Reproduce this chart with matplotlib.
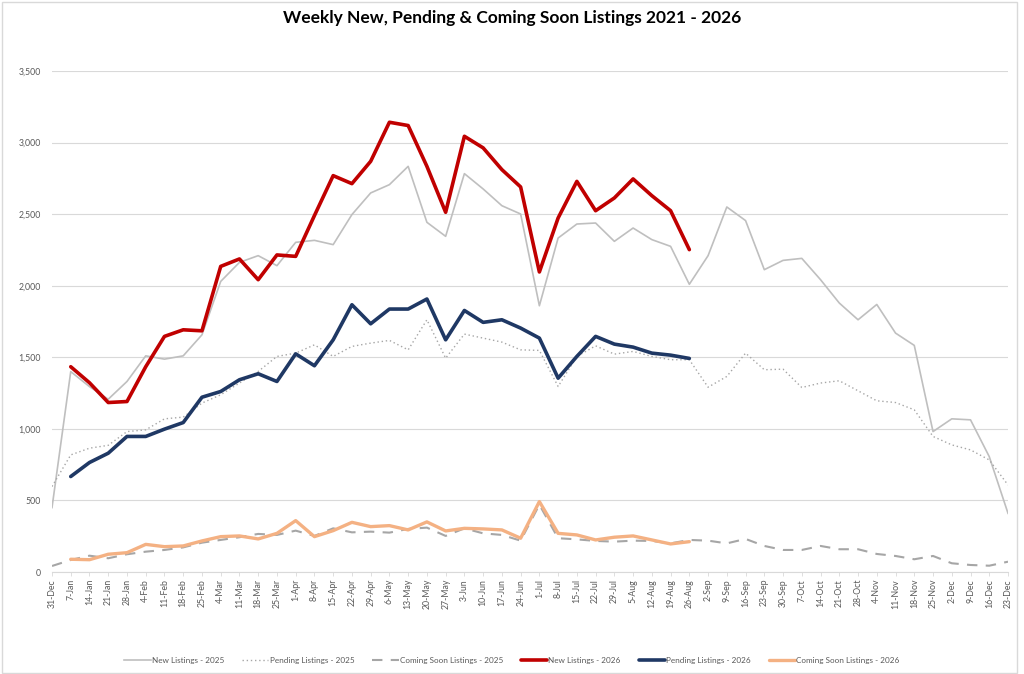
import matplotlib
matplotlib.use("Agg")
import matplotlib.pyplot as plt
from matplotlib.patches import Rectangle
from matplotlib.ticker import FuncFormatter

weeks = ["31-Dec", "7-Jan", "14-Jan", "21-Jan", "28-Jan", "4-Feb", "11-Feb", "18-Feb", "25-Feb",
         "4-Mar", "11-Mar", "18-Mar", "25-Mar", "1-Apr", "8-Apr", "15-Apr", "22-Apr", "29-Apr",
         "6-May", "13-May", "20-May", "27-May", "3-Jun", "10-Jun", "17-Jun", "24-Jun", "1-Jul",
         "8-Jul", "15-Jul", "22-Jul", "29-Jul", "5-Aug", "12-Aug", "19-Aug", "26-Aug", "2-Sep",
         "9-Sep", "16-Sep", "23-Sep", "30-Sep", "7-Oct", "14-Oct", "21-Oct", "28-Oct", "4-Nov",
         "11-Nov", "18-Nov", "25-Nov", "2-Dec", "9-Dec", "16-Dec", "23-Dec"]

new_2025 = [450, 1400, 1295, 1207, 1331, 1510, 1487, 1510, 1657, 2030, 2163, 2210, 2140, 2303,
            2317, 2287, 2497, 2648, 2706, 2834, 2443, 2345, 2783, 2676, 2559, 2501, 1860, 2333,
            2431, 2438, 2310, 2403, 2322, 2275, 2010, 2210, 2550, 2455, 2112, 2177, 2191, 2042,
            1879, 1762, 1869, 1669, 1583, 981, 1070, 1063, 806, 410]

pending_2025 = [597, 818, 865, 885, 981, 993, 1070, 1082, 1180, 1238, 1320, 1401, 1506, 1529,
                1587, 1506, 1576, 1599, 1618, 1552, 1762, 1494, 1662, 1634, 1606, 1552, 1548,
                1296, 1506, 1580, 1522, 1541, 1506, 1483, 1483, 1291, 1366, 1529, 1413, 1417,
                1289, 1320, 1336, 1266, 1196, 1184, 1133, 947, 888, 853, 783, 608]

coming_2025 = [42, 84, 114, 96, 124, 142, 154, 172, 205, 224, 243, 266, 259, 289, 252, 305, 277,
               282, 275, 301, 310, 252, 305, 270, 259, 219, 470, 236, 228, 217, 212, 219, 217,
               200, 224, 219, 200, 231, 182, 154, 154, 182, 159, 159, 126, 112, 89, 112, 61, 49,
               44, 72]

new_2026 = [None, 1434, 1322, 1184, 1191, 1434, 1646, 1692, 1685, 2135, 2187, 2042, 2215, 2205,
            2490, 2769, 2713, 2869, 3142, 3119, 2834, 2513, 3044, 2963, 2811, 2690, 2096, 2473,
            2729, 2524, 2613, 2746, 2629, 2524, 2252]

pending_2026 = [None, 667, 765, 830, 947, 947, 998, 1044, 1221, 1261, 1343, 1385, 1331, 1524,
                1441, 1622, 1867, 1734, 1837, 1837, 1907, 1622, 1827, 1744, 1762, 1704, 1634,
                1354, 1506, 1646, 1592, 1571, 1529, 1515, 1492]

coming_2026 = [None, 89, 86, 124, 135, 193, 177, 182, 217, 247, 252, 231, 270, 359, 247, 289,
               347, 317, 324, 294, 350, 287, 305, 301, 294, 236, 492, 270, 259, 224, 243, 252,
               224, 196, 212]

title = "Weekly New, Pending & Coming Soon Listings 2021 - 2026"
yticks = [0, 500, 1000, 1500, 2000, 2500, 3000, 3500]

plt.rcParams['font.family'] = ['Lato', 'DejaVu Sans']

fig = plt.figure(figsize=(10.24, 6.74), dpi=100)
ax = fig.add_axes([52 / 1024, 102 / 674, 956 / 1024, 501 / 674])

x_all = list(range(len(weeks)))
x_26 = list(range(len(new_2026)))

def nz(v):
    return [float('nan') if a is None else a for a in v]

ax.plot(x_all, new_2025, color="#BFBFBF", lw=1.2, label="New Listings - 2025", zorder=3)
ax.plot(x_all, pending_2025, color="#A6A6A6", lw=1.0, ls=(0, (1, 2)), label="Pending Listings - 2025", zorder=3)
ax.plot(x_all, coming_2025, color="#A6A6A6", lw=1.5, ls=(0, (5, 4)), label="Coming Soon Listings - 2025", zorder=3)
ax.plot(x_26, nz(new_2026), color="#C00000", lw=2.6, label="New Listings - 2026", zorder=4,
        solid_joinstyle="round", solid_capstyle="round")
ax.plot(x_26, nz(pending_2026), color="#1F3864", lw=2.6, label="Pending Listings - 2026", zorder=4,
        solid_joinstyle="round", solid_capstyle="round")
ax.plot(x_26, nz(coming_2026), color="#F4B183", lw=2.4, label="Coming Soon Listings - 2026", zorder=4,
        solid_joinstyle="round", solid_capstyle="round")

ax.set_xlim(0, len(weeks) - 1)
ax.set_ylim(0, 3500)
ax.set_yticks(yticks)
ax.yaxis.set_major_formatter(FuncFormatter(lambda v, p: f"{int(v):,}"))
ax.set_xticks(x_all)
ax.set_xticklabels(weeks, rotation=90)
ax.tick_params(axis="x", labelsize=6.3, colors="#595959", length=3, width=0.6, color="#D9D9D9", pad=2)
ax.tick_params(axis="y", labelsize=6.3, colors="#595959", length=0, pad=8)
ax.grid(axis="y", color="#D9D9D9", lw=0.8, zorder=0)
ax.set_axisbelow(True)
for s in ["top", "right", "left"]:
    ax.spines[s].set_visible(False)
ax.spines["bottom"].set_color("#D9D9D9")
ax.spines["bottom"].set_linewidth(0.8)

fig.text(0.5, 1 - 18 / 674, title, ha="center", va="center", fontsize=12.5, fontweight="bold", color="#000000")

leg = fig.legend(loc="center", bbox_to_anchor=(0.5, 14 / 674), ncol=6, frameon=False,
                 fontsize=5.9, handlelength=3.2, handletextpad=0.15, columnspacing=2.2)
for t in leg.get_texts():
    t.set_color("#595959")

fig.patches.append(Rectangle((2 / 1024, 1 / 674), 1015 / 1024, 671 / 674, transform=fig.transFigure,
                             fill=False, edgecolor="#D9D9D9", lw=1.0))

fig.savefig("out.png", dpi=100, facecolor="white")
